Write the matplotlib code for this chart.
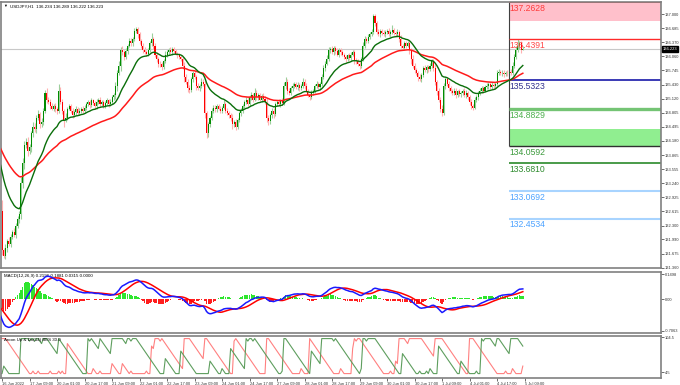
import matplotlib

matplotlib.use("Agg")
import matplotlib.pyplot as plt
import matplotlib.transforms as mtransforms
import numpy as np
import pandas as pd

W, H = 680, 385

# USDJPY H1 closes before the visible window (16 Jun, feeds the EMAs / MACD / Aroon)
PRE_CLOSE = [
    134.35, 134.42, 134.38, 134.50, 134.55, 134.48, 134.40, 134.45, 134.52, 134.60,
    134.55, 134.48, 134.42, 134.30, 134.25, 134.35, 134.45, 134.50, 134.40, 134.38,
    134.30, 134.42, 134.55, 134.62, 134.50, 134.45, 134.40, 134.48, 134.52, 134.45,
    134.35, 134.30, 134.38, 134.28, 134.20, 134.25, 134.32, 134.28, 134.18, 134.22,
    134.15, 134.20, 134.25, 134.10, 134.18, 134.22, 134.15, 134.08, 134.12, 134.15,
    134.05, 133.95, 133.85, 133.72, 133.60, 133.42, 133.25, 133.05, 132.85, 132.62,
]
PRE_UP = [5, 6, 4, 7, 5, 6, 4, 5, 6, 8, 5, 4, 6, 5, 4, 6, 7, 5, 4, 6,
          5, 6, 8, 5, 4, 6, 5, 4, 6, 5, 4, 6, 5, 4, 6, 5, 7, 4, 5, 6,
          4, 5, 6, 4, 5, 6, 4, 5, 6, 4, 6, 5, 8, 6, 5, 7, 6, 8, 6, 7]
PRE_DN = [6, 4, 5, 6, 4, 5, 7, 4, 5, 6, 4, 6, 5, 8, 5, 4, 6, 5, 4, 6,
          7, 5, 4, 6, 5, 4, 6, 5, 4, 6, 7, 5, 4, 6, 8, 5, 4, 6, 5, 4,
          6, 5, 4, 8, 5, 4, 6, 7, 5, 4, 8, 10, 9, 12, 10, 14, 12, 15, 12, 14]

# visible bars: 16 Jun 2022 17:00 .. 5 Jul 09:00
CLOSE = [
    131.75, 131.62, 131.80, 131.95, 131.90, 132.05, 132.15, 132.10, 132.30, 132.45,
    132.55, 133.25, 133.70, 134.10, 134.15, 133.95, 134.05, 134.35, 134.50, 134.45,
    134.70, 134.78, 134.55, 134.60, 134.85, 135.25, 135.10, 135.05, 134.95, 134.90,
    134.95, 134.88, 134.85, 135.30, 135.05, 134.85, 134.65, 134.70, 134.90, 134.95,
    134.85, 134.75, 134.82, 134.88, 134.80, 134.85, 134.90, 134.84, 134.92, 135.00,
    135.05, 134.98, 135.08, 135.02, 134.95, 135.05, 135.10, 135.00, 135.04, 134.96,
    135.02, 135.08, 135.00, 135.05, 135.15, 135.20, 135.40, 135.70, 135.85, 136.20,
    136.15, 136.05, 136.18, 136.30, 136.40, 136.35, 136.45, 136.62, 136.66, 136.55,
    136.40, 136.30, 136.20, 136.15, 136.12, 136.20, 136.35, 136.45, 136.30, 136.10,
    136.00, 135.90, 135.88, 135.82, 135.95, 136.10, 136.15, 136.20, 136.15, 136.22,
    136.18, 136.12, 136.08, 136.05, 136.00, 135.85, 135.60, 135.50, 135.35, 135.32,
    135.55, 135.68, 135.60, 135.40, 135.36, 135.40, 135.50, 135.45, 134.80, 134.35,
    134.55, 134.70, 134.85, 134.92, 134.88, 134.95, 134.90, 134.85, 134.92, 135.00,
    134.85, 134.80, 134.75, 134.70, 134.55, 134.60, 134.50, 134.65, 134.80, 134.85,
    134.95, 135.05, 135.10, 135.00, 135.15, 135.20, 135.10, 135.25, 135.15, 135.20,
    135.10, 135.18, 135.12, 135.05, 134.70, 134.62, 134.75, 134.85, 134.78, 135.00,
    135.05, 135.00, 135.08, 135.02, 135.40, 135.50, 135.30, 135.25, 135.35, 135.40,
    135.45, 135.38, 135.42, 135.35, 135.40, 135.50, 135.40, 135.30, 135.20, 135.15,
    135.25, 135.30, 135.40, 135.45, 135.38, 135.45, 135.60, 135.80, 135.90, 136.00,
    136.20, 136.22, 136.15, 136.25, 136.18, 136.10, 136.20, 136.15, 136.10, 136.05,
    136.00, 136.08, 136.02, 136.10, 136.15, 135.98, 135.95, 135.90, 135.85, 136.00,
    136.30, 136.45, 136.40, 136.50, 136.55, 136.60, 136.95, 136.80, 136.60, 136.55,
    136.62, 136.58, 136.55, 136.60, 136.62, 136.55, 136.60, 136.65, 136.58, 136.55,
    136.60, 136.45, 136.30, 136.25, 136.35, 136.30, 136.35, 136.20, 136.00, 135.85,
    135.75, 135.70, 135.60, 135.55, 135.65, 135.80, 135.75, 135.82, 135.78, 135.85,
    135.95, 135.80, 135.50, 135.30, 135.10, 134.90, 134.80, 135.40, 135.55, 135.45,
    135.35, 135.30, 135.25, 135.30, 135.20, 135.28, 135.22, 135.25, 135.30, 135.20,
    135.25, 135.15, 135.05, 134.95, 134.92, 135.10, 135.15, 135.25, 135.30, 135.35,
    135.30, 135.38, 135.40, 135.45, 135.38, 135.42, 135.40, 135.45, 135.70, 135.72,
    135.68, 135.70, 135.66, 135.70, 135.68, 135.72, 135.70, 135.85, 136.05, 136.20,
    136.30, 136.35, 136.20, 136.223,
]
# wick lengths in hundredths of a yen above max(open, close) / below min(open, close)
UP_WICK = [
    25, 6, 8, 5, 10, 6, 4, 9, 5, 6, 8, 12, 10, 8, 9, 12, 6, 5, 10, 8,
    6, 9, 5, 8, 6, 7, 10, 5, 6, 8, 5, 7, 6, 15, 8, 6, 5, 9, 4, 6,
    5, 6, 4, 7, 5, 6, 3, 5, 6, 4, 5, 3, 6, 4, 5, 6, 3, 5, 4, 6,
    4, 5, 3, 6, 5, 4, 8, 6, 10, 6, 9, 5, 6, 4, 7, 6, 5, 8, 6, 5,
    6, 4, 5, 7, 4, 5, 6, 13, 5, 6, 5, 4, 6, 5, 4, 7, 5, 4, 6, 5,
    4, 5, 3, 6, 4, 5, 8, 6, 5, 7, 6, 5, 8, 4, 6, 5, 7, 6, 8, 5,
    6, 4, 7, 5, 6, 4, 5, 6, 4, 10, 5, 6, 4, 5, 7, 4, 6, 5, 4, 6,
    5, 4, 6, 5, 4, 6, 5, 11, 6, 4, 5, 4, 6, 5, 8, 6, 5, 7, 6, 4,
    5, 6, 4, 5, 8, 10, 6, 5, 4, 6, 5, 4, 6, 5, 4, 7, 5, 6, 4, 5,
    6, 4, 5, 6, 4, 5, 7, 6, 5, 8, 6, 5, 7, 4, 5, 6, 4, 5, 6, 4,
    5, 4, 6, 5, 4, 6, 5, 4, 6, 5, 8, 6, 5, 6, 5, 7, 5, 6, 4, 6,
    5, 4, 6, 5, 4, 6, 5, 11, 5, 4, 6, 5, 8, 4, 6, 5, 4, 6, 5, 8,
    6, 5, 4, 6, 5, 4, 6, 5, 4, 6, 5, 6, 8, 4, 6, 5, 7, 6, 5, 4,
    6, 5, 4, 6, 5, 4, 6, 5, 4, 5, 6, 4, 5, 6, 4, 5, 6, 4, 5, 6,
    4, 5, 6, 4, 5, 6, 4, 5, 6, 5, 4, 5, 6, 4, 5, 4, 6, 8, 6, 10,
    15, 6, 5, 7,
]
DN_WICK = [
    10, 4, 6, 8, 5, 7, 6, 5, 8, 6, 9, 10, 12, 15, 8, 10, 6, 12, 8, 7,
    10, 6, 8, 5, 7, 6, 8, 5, 6, 4, 6, 5, 7, 5, 6, 8, 15, 5, 6, 4,
    6, 5, 4, 6, 5, 4, 6, 5, 4, 5, 4, 6, 5, 4, 6, 5, 4, 6, 5, 4,
    5, 4, 6, 5, 4, 6, 8, 10, 6, 12, 6, 8, 5, 6, 4, 7, 5, 6, 4, 8,
    6, 5, 7, 4, 6, 5, 4, 6, 8, 5, 6, 8, 5, 6, 5, 4, 6, 5, 4, 6,
    5, 4, 6, 5, 4, 8, 10, 6, 8, 7, 5, 6, 4, 8, 5, 6, 4, 5, 12, 10,
    8, 6, 5, 4, 6, 5, 4, 6, 5, 4, 6, 5, 7, 8, 10, 6, 8, 5, 4, 6,
    5, 4, 6, 5, 4, 6, 5, 4, 6, 5, 4, 6, 5, 4, 10, 9, 6, 5, 8, 4,
    5, 4, 6, 5, 4, 6, 8, 5, 4, 6, 5, 4, 6, 5, 4, 5, 6, 4, 5, 6,
    4, 5, 6, 4, 5, 6, 4, 5, 6, 4, 5, 6, 4, 5, 6, 4, 5, 6, 4, 5,
    6, 4, 5, 6, 4, 8, 5, 6, 7, 4, 5, 6, 4, 5, 6, 4, 5, 6, 5, 4,
    6, 5, 4, 6, 5, 4, 6, 5, 4, 6, 5, 8, 6, 4, 5, 6, 4, 8, 10, 6,
    5, 6, 8, 4, 5, 6, 4, 5, 6, 4, 5, 6, 8, 10, 6, 8, 6, 5, 6, 4,
    5, 6, 4, 5, 6, 4, 5, 6, 4, 5, 6, 5, 8, 6, 6, 4, 5, 6, 4, 5,
    6, 4, 5, 6, 4, 5, 6, 4, 5, 6, 4, 5, 6, 4, 5, 4, 6, 5, 4, 6,
    5, 8, 6, 0,
]

# support / resistance levels drawn right of the last bar
LEVELS = [137.2628, 136.4391, 135.5323, 134.8829, 134.0592, 133.6810, 133.0692, 132.4534]
SELL_ZONE = (136.85, 137.2628)
BUY_ZONE = (134.0592, 134.45)
LAST_PRICE = 136.223

PRICE_TICKS = [137.000, 136.685, 136.370, 136.060, 135.745, 135.430, 135.120, 134.805,
               134.495, 134.180, 133.865, 133.555, 133.240, 132.925, 132.615, 132.300,
               131.990, 131.675, 131.360]
MACD_TICK_LABELS = ["0.1498", "0.00", "-0.7063"]
AROON_TICKS = [104.5, 4.5]
DATE_LABELS = ["16 Jun 2022", "17 Jun 09:00", "20 Jun 01:00", "20 Jun 17:00", "21 Jun 09:00",
               "22 Jun 01:00", "22 Jun 17:00", "23 Jun 09:00", "24 Jun 01:00", "24 Jun 17:00",
               "27 Jun 09:00", "28 Jun 01:00", "28 Jun 17:00", "29 Jun 09:00", "30 Jun 01:00",
               "30 Jun 17:00", "1 Jul 09:00", "4 Jul 01:00", "4 Jul 17:00", "5 Jul 09:00"]

HEADER = "USDJPY,H1  136.234 136.289 136.222 136.223"
MACD_TITLE = "MACD(12,26,9) 0.2196 0.1881 0.0315 0.0000"
AROON_TITLE = "Aroon Up & Dn(14) BES 30.0"

# level styles: (line colour, line width, label colour)
LEVEL_STYLE = [
    ("#ff2a2a", 1.2, "#ff3b3b"),
    ("#ff2a2a", 1.0, "#ff4a4a"),
    ("#2b2bb0", 1.3, "#33338f"),
    ("#74c474", 2.4, "#4caf4c"),
    ("#303030", 1.0, "#3c9a3c"),
    ("#2a8a2a", 1.2, "#2e8b2e"),
    ("#a8d4ff", 1.5, "#4da3ff"),
    ("#a8d4ff", 1.5, "#4da3ff"),
]
GRAY = "#808080"
TICK_FS = 2.9


def px_axes(fig, x0, y0, x1, y1):
    return fig.add_axes([x0 / W, 1 - y1 / H, (x1 - x0) / W, (y1 - y0) / H])


def style_panel(ax):
    for s in ax.spines.values():
        s.set_color(GRAY)
        s.set_linewidth(1.2)
    ax.yaxis.tick_right()
    ax.tick_params(axis="y", length=2, width=0.5, labelsize=TICK_FS, pad=0.8, colors="#333333")
    ax.tick_params(axis="x", bottom=False, labelbottom=False)


def aroon(high, low, per=14):
    up = np.full(len(high), np.nan)
    dn = np.full(len(low), np.nan)
    for k in range(per, len(high)):
        up[k] = 100 * np.argmax(high[k - per:k + 1]) / per
        dn[k] = 100 * np.argmin(low[k - per:k + 1]) / per
    return up, dn


def main():
    plt.rcParams["font.family"] = ["Liberation Sans", "DejaVu Sans"]

    closes = pd.Series(PRE_CLOSE + CLOSE)
    n_pre = len(PRE_CLOSE)
    idx = np.arange(len(closes)) - n_pre
    c_all = closes.to_numpy()
    o_all = np.concatenate([[c_all[0]], c_all[:-1]])
    hi_all = np.maximum(o_all, c_all) + np.array(PRE_UP + UP_WICK) / 100
    lo_all = np.minimum(o_all, c_all) - np.array(PRE_DN + DN_WICK) / 100

    ema_fast = closes.ewm(span=21, adjust=False).mean()
    ema_slow = closes.ewm(span=55, adjust=False).mean()
    macd = closes.ewm(span=12, adjust=False).mean() - closes.ewm(span=26, adjust=False).mean()
    signal = macd.rolling(9, min_periods=1).mean()
    hist = (macd - signal).to_numpy()
    aroon_up, aroon_dn = aroon(hi_all, lo_all)

    vis = idx >= 0
    x = idx[vis]
    o, c, hi, lo = o_all[vis], c_all[vis], hi_all[vis], lo_all[vis]

    fig = plt.figure(figsize=(W / 100, H / 100), dpi=100)
    fig.patch.set_facecolor("white")
    xlim = (-0.6, 383.4)

    # ---------------- price panel ----------------
    ax = px_axes(fig, 1, 2, 661, 268)
    style_panel(ax)
    ax.set_xlim(*xlim)
    ax.set_ylim(131.356, 137.267)
    ax.set_yticks(PRICE_TICKS)
    ax.set_yticklabels([f"{t:.3f}" for t in PRICE_TICKS])

    ax.axhline(LAST_PRICE, color="#c8c8c8", lw=0.8, zorder=1)

    bull = c >= o
    body = np.maximum(np.abs(c - o), 0.008)
    bottom = np.minimum(o, c)
    ax.vlines(x[bull], lo[bull], hi[bull], color="#9ccf9c", lw=0.8, zorder=2)
    ax.vlines(x[~bull], lo[~bull], hi[~bull], color="#ffb0b0", lw=0.8, zorder=2)
    ax.bar(x[bull], body[bull], bottom=bottom[bull], width=0.6, color="#008c00", lw=0, zorder=3)
    ax.bar(x[~bull], body[~bull], bottom=bottom[~bull], width=0.6, color="#ff0000", lw=0, zorder=3)

    ax.plot(idx, ema_slow, color="#ff1a1a", lw=1.1, zorder=4)
    ax.plot(idx, ema_fast, color="#0a6e0a", lw=1.0, zorder=5)

    zx0 = 294.8  # zones start just right of the last bar
    ax.fill_between([zx0, xlim[1]], *SELL_ZONE, color="#ffc0cb", lw=0, zorder=1)
    ax.fill_between([zx0, xlim[1]], *BUY_ZONE, color="#90ee90", lw=0, zorder=1)
    ax.vlines(zx0, BUY_ZONE[0], 137.267, color="#404040", lw=0.8, zorder=2)
    for lvl, (lc, lw, tc) in zip(LEVELS, LEVEL_STYLE):
        ax.hlines(lvl, zx0, xlim[1], color=lc, lw=lw, zorder=2)
        ax.annotate(f"{lvl:.4f}", (zx0 + 0.6, lvl), xytext=(0, -1.2), textcoords="offset points",
                    va="top", ha="left", fontsize=6.2, color=tc, zorder=6)

    trans = mtransforms.blended_transform_factory(ax.transAxes, ax.transData)
    ax.text(1.003, LAST_PRICE, f"{LAST_PRICE:.3f}", transform=trans, fontsize=TICK_FS, color="white",
            va="center", ha="left", bbox=dict(boxstyle="square,pad=0.2", fc="black", ec="black"),
            clip_on=False, zorder=7)
    ax.text(0.004, 0.992, "\u25bc", transform=ax.transAxes, fontsize=2.8, va="top", ha="left")
    ax.text(0.013, 0.992, HEADER, transform=ax.transAxes, fontsize=3.2, va="top", ha="left")

    # ---------------- MACD panel ----------------
    axm = px_axes(fig, 1, 272, 661, 333)
    style_panel(axm)
    axm.set_xlim(*xlim)
    axm.set_ylim(-0.751, 0.597)
    axm.bar(idx, hist, width=0.8, color=np.where(hist >= 0, "#2ee62e", "#ff1e1e"), lw=0, zorder=2)
    axm.plot(idx, signal, color="#ff0000", lw=1.1, zorder=3)
    axm.plot(idx, macd, color="#1a1aff", lw=1.1, zorder=4)
    axm.set_yticks([0.552, 0.0, -0.7063])
    axm.set_yticklabels(MACD_TICK_LABELS)
    axm.text(0.004, 0.96, MACD_TITLE, transform=axm.transAxes, fontsize=3.2, va="top", ha="left")

    # ---------------- Aroon panel ----------------
    axa = px_axes(fig, 1, 336, 661, 378)
    style_panel(axa)
    axa.set_xlim(*xlim)
    axa.set_ylim(-12.6, 107.4)
    axa.plot(idx, aroon_dn, color="#ff8080", lw=0.8)
    axa.plot(idx, aroon_up, color="#5e9e5e", lw=0.8)
    axa.set_yticks(AROON_TICKS)
    axa.set_yticklabels([str(t) for t in AROON_TICKS])
    axa.text(0.004, 0.96, AROON_TITLE, transform=axa.transAxes, fontsize=3.2, va="top", ha="left")
    axa.tick_params(axis="x", bottom=True, labelbottom=True, length=2, width=0.5,
                    labelsize=TICK_FS, pad=0.8, colors="#333333")
    axa.set_xticks(np.arange(len(DATE_LABELS)) * 16)
    axa.set_xticklabels(DATE_LABELS, ha="left")

    fig.savefig("out.png", dpi=100)
    plt.close(fig)


if __name__ == "__main__":
    main()
